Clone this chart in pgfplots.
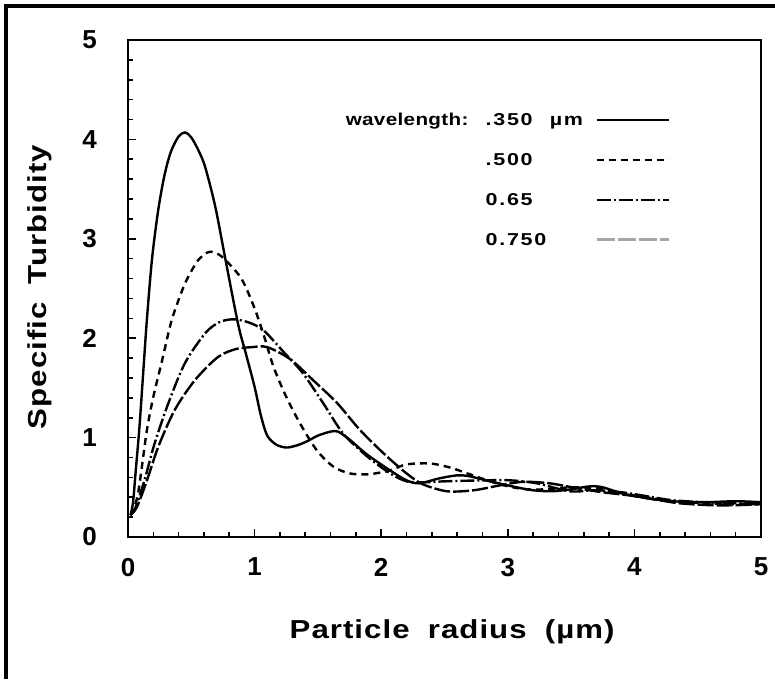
\documentclass[border=0pt]{standalone}
\usepackage{fontspec}
\setmainfont{Liberation Sans}
\newfontfamily\labfont{Liberation Sans}[FakeStretch=1.2,LetterSpace=4]
\newfontfamily\legfont{Liberation Sans}[FakeStretch=1.25,LetterSpace=10]
\newfontfamily\wavefont{Liberation Sans}[FakeStretch=1.2,LetterSpace=2]
\usepackage{pgfplots}
\pgfplotsset{compat=1.18}
\begin{document}
\begin{tikzpicture}
\path[use as bounding box] (0,0) rectangle (387.5pt,339.5pt);
\draw[line width=2pt] (3pt,0) -- (3pt,336.5pt) -- (387.5pt,336.5pt);
\begin{axis}[
  at={(64pt,71pt)}, anchor=south west,
  scale only axis, width=316.5pt, height=248.5pt,
  xmin=0, xmax=5, ymin=0, ymax=5,
  xtick={0,1,2,3,4,5}, ytick={0,1,2,3,4,5},
  minor tick num=4,
  tick pos=left,
  tick align=inside,
  major tick length=4pt, minor tick length=2.5pt,
  axis line style={line width=1pt},
  every tick/.style={black, line width=0.8pt},
  /pgf/number format/assume math mode=true,
  ticklabel style={font=\bfseries\fontsize{13}{15}\selectfont},
  xticklabel style={yshift=-7pt},
  yticklabel style={xshift=-12pt},
  xlabel={\labfont\bfseries Particle\hspace{0.7em}radius\hspace{0.7em}(µm)},
  ylabel={\labfont\bfseries Specific\hspace{0.7em}Turbidity},
  every axis x label/.style={at={(axis description cs:0.512,-0.19)},anchor=center,font=\fontsize{13}{15}\selectfont},
  every axis y label/.style={at={(axis description cs:-0.139,0.503)},anchor=center,rotate=90,font=\fontsize{13}{15}\selectfont},
  legend cell align=left,
  legend plot pos=right,
  legend image code/.code={\draw[#1] (0pt,0pt) -- (36pt,0pt);},
  legend style={draw=none, fill=none, at={(axis cs:2.68,4.30)}, anchor=north west,
    font=\legfont\bfseries\fontsize{8.6}{10}\selectfont,
    nodes={text height=6pt, text depth=0pt, inner ysep=0pt, inner xsep=6pt},
    row sep=14pt},
]
\addplot[black, line width=1.2pt, smooth, tension=0.5] coordinates {
(0.02,0.22) (0.04,0.35) (0.06,0.65) (0.09,1.10) (0.12,1.65) (0.15,2.20) (0.19,2.80)
(0.24,3.30) (0.29,3.65) (0.34,3.88) (0.40,4.03) (0.45,4.07) (0.50,4.02) (0.56,3.88)
(0.61,3.72) (0.69,3.32) (0.77,2.79) (0.87,2.14) (0.93,1.85) (1.00,1.51) (1.05,1.22)
(1.10,1.02) (1.17,0.93) (1.25,0.90) (1.33,0.92) (1.41,0.96) (1.50,1.02) (1.60,1.06)
(1.66,1.06) (1.75,0.98) (1.84,0.88) (1.92,0.80) (2.07,0.67) (2.20,0.57) (2.30,0.54)
(2.46,0.59) (2.60,0.62) (2.70,0.61) (2.86,0.56) (3.07,0.50) (3.20,0.47) (3.35,0.46)
(3.50,0.48) (3.65,0.51) (3.75,0.50) (3.90,0.44) (4.10,0.39) (4.30,0.36) (4.55,0.35)
(4.80,0.36) (5.00,0.35)};
\addlegendentry{\llap{\wavefont\bfseries wavelength:\hspace{1em}}.350\hspace{1em}µm}
\addplot[black, line width=1.2pt, smooth, tension=0.5, dash pattern=on 3.5pt off 2.5pt] coordinates {
(0.02,0.22) (0.05,0.30) (0.08,0.44) (0.11,0.71) (0.15,1.08) (0.20,1.41) (0.27,1.78)
(0.33,2.11) (0.37,2.28) (0.45,2.55) (0.54,2.76) (0.60,2.84) (0.65,2.87) (0.72,2.84)
(0.79,2.76) (0.90,2.59) (1.00,2.30) (1.08,2.00) (1.15,1.71) (1.25,1.41) (1.36,1.14)
(1.49,0.875) (1.62,0.71) (1.75,0.64) (1.89,0.63) (2.00,0.65) (2.07,0.67) (2.20,0.73)
(2.385,0.74) (2.54,0.70) (2.68,0.64) (2.86,0.56) (3.00,0.51) (3.15,0.48) (3.30,0.48)
(3.50,0.50) (3.70,0.49) (3.90,0.44) (4.10,0.40) (4.30,0.36) (4.55,0.34) (4.80,0.33)
(5.00,0.33)};
\addlegendentry{.500}
\addplot[black, line width=1.2pt, smooth, tension=0.5, dash pattern=on 7pt off 1.5pt on 1pt off 1.5pt] coordinates {
(0.02,0.22) (0.06,0.30) (0.13,0.57) (0.21,0.94) (0.32,1.35) (0.45,1.75) (0.61,2.05)
(0.72,2.16) (0.83,2.19) (0.95,2.16) (1.07,2.08) (1.23,1.86) (1.38,1.65) (1.54,1.35)
(1.70,1.04) (1.89,0.81) (2.07,0.64) (2.20,0.56) (2.33,0.55) (2.50,0.56) (2.81,0.57)
(3.02,0.57) (3.23,0.54) (3.49,0.46) (3.70,0.47) (3.90,0.45) (4.10,0.41) (4.30,0.37)
(4.55,0.35) (4.80,0.34) (5.00,0.34)};
\addlegendentry{0.65}
\addplot[black, line width=1.2pt, smooth, tension=0.5, dash pattern=on 8pt off 1.5pt, forget plot] coordinates {
(0.02,0.22) (0.07,0.30) (0.15,0.57) (0.24,0.91) (0.37,1.28) (0.53,1.58) (0.71,1.81)
(0.85,1.89) (0.98,1.91) (1.10,1.91) (1.28,1.79) (1.46,1.58) (1.65,1.35) (1.83,1.08)
(2.02,0.84) (2.20,0.64) (2.33,0.53) (2.52,0.46) (2.73,0.47) (2.94,0.52) (3.12,0.555)
(3.33,0.54) (3.55,0.49) (3.75,0.45) (3.95,0.42) (4.15,0.38) (4.35,0.34) (4.60,0.32)
(4.80,0.32) (5.00,0.33)};
\addlegendimage{gray!70, line width=1.5pt, dash pattern=on 9pt off 1.5pt}
\addlegendentry{0.750}
\end{axis}
\end{tikzpicture}
\end{document}
